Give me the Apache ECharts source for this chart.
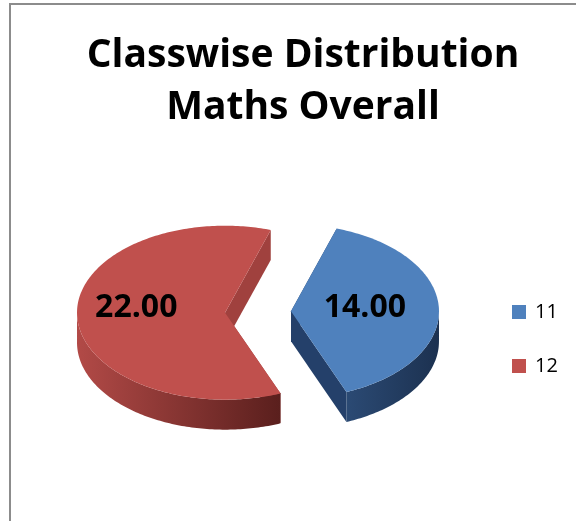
<!DOCTYPE html>
<html>
<head>
<meta charset="utf-8">
<style>
html,body{margin:0;padding:0;background:#fff;}
#chart{width:576px;height:521px;}
</style>
<script src="https://cdn.jsdelivr.net/npm/echarts@6/dist/echarts.min.js"></script>
</head>
<body>
<div id="chart"></div>
<script>
// ---- data ----
const categories = ['11', '12'];
const values = [14, 22];
const titleLines = ['Classwise Distribution', 'Maths Overall'];

// ---- style ----
const FONT = '"Open Sans", Lato, sans-serif';
const topColors = ['#4F81BD', '#C0504D'];
const wallColors = [['#2B4A74', '#1C3150'], ['#B24A47', '#5A1F1D']];
const cutColors = ['#24406A', '#A0413E'];
const geo = { cx: 258, cy: 312, rx: 148, ry: 87, depth: 30, start: 18, explode: 33 };
const labelFactor = [0.5, 0.6];

const total = values.reduce((a, b) => a + b, 0);
const starts = [];
let acc = geo.start;
values.forEach(v => { starts.push(acc); acc += v / total * 360; });

const rad = d => d * Math.PI / 180;

function sliceRender(idx) {
  return function (params, api) {
    const a0 = starts[idx];
    const a1 = a0 + values[idx] / total * 360;
    const bis = (a0 + a1) / 2;
    const k = geo.ry / geo.rx;
    const ox = geo.cx + geo.explode * Math.sin(rad(bis));
    const oy = geo.cy - geo.explode * k * Math.cos(rad(bis));
    const P = (t, h) => [ox + geo.rx * Math.sin(rad(t)), oy - geo.ry * Math.cos(rad(t)) + (h || 0)];
    const arc = (t0, t1, h) => {
      const pts = [];
      const n = Math.max(2, Math.ceil(Math.abs(t1 - t0)));
      for (let i = 0; i <= n; i++) pts.push(P(t0 + (t1 - t0) * i / n, h));
      return pts;
    };
    const children = [];
    const D = geo.depth;
    // cut faces
    [a0, a1].forEach(a => {
      children.push({
        type: 'polygon',
        shape: { points: [[ox, oy], P(a), P(a, D), [ox, oy + D]] },
        style: { fill: cutColors[idx] }
      });
    });
    // outer visible wall
    [[90, 270], [450, 630]].forEach(([v0, v1]) => {
      const t0 = Math.max(a0, v0), t1 = Math.min(a1, v1);
      if (t1 > t0) {
        const top = arc(t0, t1, 0);
        const bot = arc(t1, t0, D);
        children.push({
          type: 'polygon',
          shape: { points: top.concat(bot) },
          style: {
            fill: {
              type: 'linear', x: 0, y: 0, x2: 1, y2: 0,
              colorStops: [{ offset: 0, color: wallColors[idx][0] }, { offset: 1, color: wallColors[idx][1] }]
            }
          }
        });
      }
    });
    // top face
    children.push({
      type: 'polygon',
      shape: { points: [[ox, oy]].concat(arc(a0, a1, 0)) },
      style: { fill: topColors[idx] }
    });
    // label
    children.push({
      type: 'text',
      x: ox + labelFactor[idx] * geo.rx * Math.sin(rad(bis)),
      y: geo.cy - 4,
      style: {
        text: values[idx].toFixed(2),
        fill: '#000',
        font: 'bold 32px ' + FONT,
        align: 'center',
        verticalAlign: 'middle'
      }
    });
    return { type: 'group', children: children };
  };
}

const chart = echarts.init(document.getElementById('chart'), null, { renderer: 'canvas' });
chart.setOption({
  backgroundColor: '#fff',
  animation: false,
  title: {
    text: titleLines.join('\n'),
    left: 298,
    textAlign: 'center',
    top: 25,
    textStyle: { fontFamily: FONT, fontWeight: 'bold', fontSize: 39, lineHeight: 52, color: '#000' }
  },
  legend: {
    orient: 'vertical',
    left: 512,
    top: 302,
    padding: 0,
    itemWidth: 14,
    itemHeight: 14,
    itemGap: 34,
    icon: 'rect',
    data: categories,
    textStyle: { fontFamily: FONT, fontSize: 20, color: '#000', padding: [0, 0, 0, 4] }
  },
  graphic: [{
    type: 'rect',
    shape: { x: 10, y: 4, width: 700, height: 700 },
    style: { fill: 'none', stroke: '#8C8C8C', lineWidth: 2 },
    silent: true
  }],
  series: categories.map((name, i) => ({
    type: 'custom',
    name: name,
    coordinateSystem: 'none',
    itemStyle: { color: topColors[i] },
    data: [values[i]],
    renderItem: sliceRender(i)
  }))
});
</script>
</body>
</html>
